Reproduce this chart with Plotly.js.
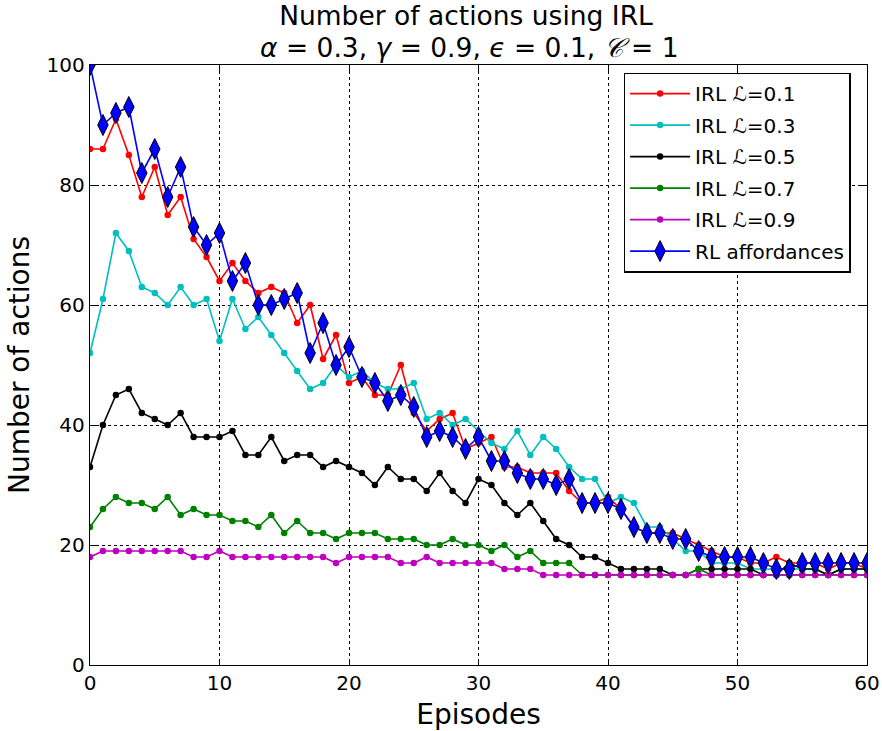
<!DOCTYPE html>
<html>
<head>
<meta charset="utf-8">
<script src="https://cdn.plot.ly/plotly-3.0.1.min.js"></script>
<style>html,body{margin:0;padding:0;background:#fff;}#chart{width:882px;height:731px;}</style>
</head>
<body>
<div id="chart"></div>
<script>
const episodes = Array.from({length: 61}, (_, i) => i);

const irl01 = [86,86,91,85,78,83,75,78,71,68,64,67,64,62,63,62,57,60,51,55,47,48,45,45,50,42,39,41,42,36,37,38,33,33,32,32,32,29,27,27,28,26,23,22,22,22,21,20,19,18,18,17,17,18,17,17,17,16,17,17,16];
const irl03 = [52,61,72,69,63,62,60,63,60,61,54,61,56,58,55,52,49,46,47,50,48,49,47,46,46,47,41,42,40,41,39,37,36,39,35,38,36,33,31,31,27,28,27,23,23,21,19,19,17,17,17,16,16,16,16,16,16,15,16,16,16];
const irl05 = [33,40,45,46,42,41,40,42,38,38,38,39,35,35,38,34,35,35,33,34,33,32,30,33,31,31,29,32,29,27,31,30,27,25,27,24,21,20,18,18,17,16,16,16,16,15,15,16,16,16,16,16,15,15,17,16,16,15,16,16,16];
const irl07 = [23,26,28,27,27,26,28,25,26,25,25,24,24,23,25,22,24,22,22,21,22,22,22,21,21,21,20,20,21,20,20,19,20,18,19,17,17,17,15,15,15,15,15,15,15,15,15,16,15,15,15,15,15,15,15,15,15,15,15,15,15];
const irl09 = [18,19,19,19,19,19,19,19,18,18,19,18,18,18,18,18,18,18,18,17,18,18,18,18,17,17,18,17,17,17,17,17,16,16,16,15,15,15,15,15,15,15,15,15,15,15,15,15,15,15,15,15,15,15,15,15,15,15,15,15,15];
const rlAff = [100,90,92,93,82,86,78,83,73,70,72,64,67,60,60,61,62,52,57,50,53,48,47,44,45,43,38,39,38,36,38,34,34,32,31,31,30,31,27,27,27,26,23,22,22,21,21,19,18,18,18,18,17,16,16,17,17,17,17,17,17];

const seriesNames = ["IRL ℒ=0.1", "IRL ℒ=0.3", "IRL ℒ=0.5", "IRL ℒ=0.7", "IRL ℒ=0.9", "RL affordances"];
const xTicks = [0, 10, 20, 30, 40, 50, 60];
const yTicks = [0, 20, 40, 60, 80, 100];
const titleLine1 = "Number of actions using IRL";
const titleLine2 = "<i>α</i> = 0.3, <i>γ</i> = 0.9, <i>ϵ</i> = 0.1, <i>𝒞</i> = 1";

const font = "DejaVu Sans, sans-serif";

function irlTrace(y, name, color, g) {
  return {
    x: episodes, y: y, name: name, legendgroup: g, type: "scatter", mode: "lines+markers",
    line: {color: color, width: 1.6},
    marker: {color: color, size: 6.5, symbol: "circle"},
    cliponaxis: true
  };
}

const traces = [
  irlTrace(irl01, seriesNames[0], "#ff0000", "g1"),
  irlTrace(irl03, seriesNames[1], "#00bfbf", "g2"),
  irlTrace(irl05, seriesNames[2], "#000000", "g3"),
  irlTrace(irl07, seriesNames[3], "#008000", "g4"),
  irlTrace(irl09, seriesNames[4], "#bf00bf", "g5"),
  {
    x: episodes, y: rlAff, name: seriesNames[5], legendgroup: "g6", type: "scatter", mode: "lines+markers",
    line: {color: "#0000ff", width: 1.6},
    marker: {color: "#0000ff", size: 15, symbol: "diamond-tall", line: {color: "#000000", width: 1}},
    cliponaxis: true
  }
];

const axisCommon = {
  showline: true, linecolor: "#000", linewidth: 1.3, mirror: "allticks",
  ticks: "inside", ticklen: 6, tickwidth: 1, tickcolor: "#000",
  showgrid: true, gridcolor: "#000", gridwidth: 1, griddash: "dot",
  zeroline: false,
  tickfont: {family: font, size: 20, color: "#000"}
};

const layout = {
  width: 882, height: 731,
  paper_bgcolor: "#fff", plot_bgcolor: "#fff",
  margin: {l: 90, r: 15, t: 65, b: 66},
  title: {
    text: titleLine1,
    font: {family: font, size: 26.5, color: "#000"},
    xref: "container", x: 466 / 882, xanchor: "center",
    yref: "container", y: 1 - 16 / 731, yanchor: "middle"
  },
  annotations: [{
    text: titleLine2, showarrow: false,
    xref: "paper", yref: "paper", x: 0.489, y: (665 - 47.5) / 600,
    xanchor: "center", yanchor: "middle",
    font: {family: font, size: 26.5, color: "#000"}
  }],
  xaxis: Object.assign({}, axisCommon, {
    range: [0, 60], tickvals: xTicks, ticktext: xTicks.map(String),
    title: {text: "Episodes", font: {family: font, size: 28, color: "#000"}, standoff: 10}
  }),
  yaxis: Object.assign({}, axisCommon, {
    range: [0, 100], tickvals: yTicks, ticktext: yTicks.map(String),
    title: {text: "Number of actions", font: {family: font, size: 28, color: "#000"}, standoff: 8}
  }),
  legend: {
    x: 0.687, y: 0.987, xanchor: "left", yanchor: "top",
    bgcolor: "#fff", bordercolor: "#000", borderwidth: 1.3,
    font: {family: font, size: 20, color: "#000"},
    itemwidth: 60, tracegroupgap: 2.5
  },
  showlegend: true
};

Plotly.newPlot("chart", traces, layout, {displayModeBar: false, staticPlot: true});
</script>
</body>
</html>
